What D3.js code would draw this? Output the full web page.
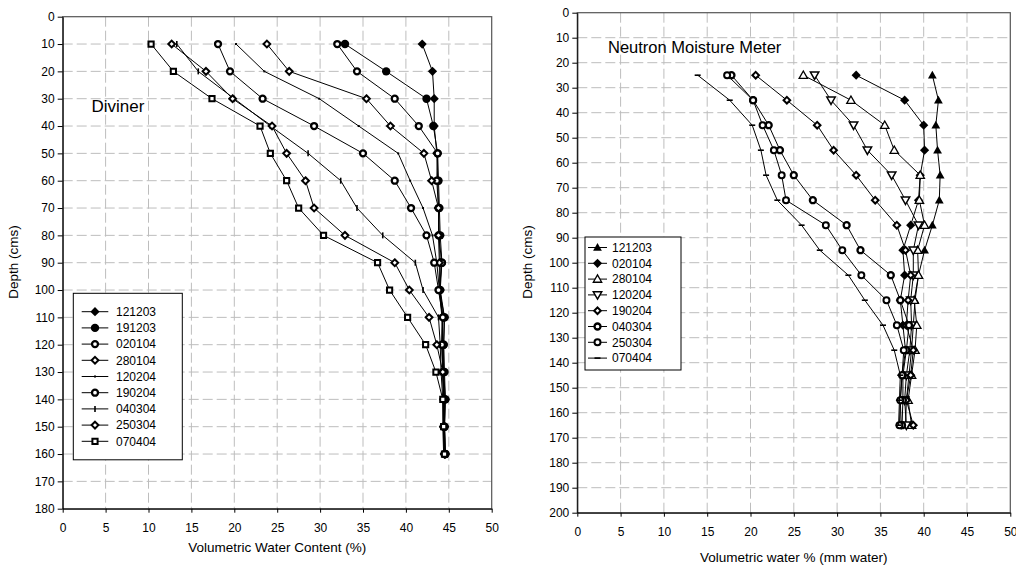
<!DOCTYPE html>
<html><head><meta charset="utf-8">
<script src="https://cdn.jsdelivr.net/npm/d3@7/dist/d3.min.js"></script>
<style>body{margin:0;background:#fff;} svg{display:block;font-family:"Liberation Sans",Arial,sans-serif;}</style>
</head><body><svg id="c" width="1016" height="566"></svg>
<script>
// ---------- data ----------
const xTickValues = [0,5,10,15,20,25,30,35,40,45,50];
const divinerDepthTicks = [0,10,20,30,40,50,60,70,80,90,100,110,120,130,140,150,160,170,180];
const nmmDepthTicks = [0,10,20,30,40,50,60,70,80,90,100,110,120,130,140,150,160,170,180,190,200];

const divinerDepths = [10,20,30,40,50,60,70,80,90,100,110,120,130,140,150,160];
const divinerLabels = ["121203","191203","020104","280104","120204","190204","040304","250304","070404"];
const div121203 = [41.9,43.1,43.3,43.3,43.6,43.7,43.8,43.9,44.0,44.0,44.3,44.3,44.4,44.5,44.5,44.6];
const div191203 = [32.9,37.7,42.4,43.2,43.7,43.8,43.9,44.0,44.2,44.0,44.5,44.4,44.5,44.6,44.5,44.6];
const div020104 = [32.0,34.3,38.7,41.5,43.7,43.6,43.8,43.8,44.2,43.9,44.5,44.4,44.4,44.6,44.5,44.6];
const div280104 = [23.8,26.4,35.4,38.2,42.1,43.0,43.8,43.8,43.9,43.9,44.3,44.2,44.3,44.5,44.4,44.5];
const div120204 = [20.2,23.5,29.9,34.5,39.1,40.5,42.0,43.1,43.6,43.9,44.2,44.2,44.3,44.4,44.4,44.5];
const div190204 = [18.1,19.5,23.3,29.3,35.0,38.7,40.6,42.4,43.3,43.8,44.3,44.2,44.3,44.4,44.4,44.5];
const div040304 = [13.3,15.8,20.0,24.2,28.6,32.4,34.3,37.3,41.1,42.0,43.8,44.0,44.1,44.3,44.3,44.4];
const div250304 = [12.7,16.7,19.8,24.4,26.1,28.3,29.3,32.9,38.7,40.4,42.7,43.6,44.3,44.4,44.4,44.5];
const div070404 = [10.3,12.9,17.4,23.0,24.2,26.1,27.5,30.4,36.7,38.1,40.2,42.3,43.5,44.3,44.4,44.5];

const nmmDepths = [25,35,45,55,65,75,85,95,105,115,125,135,145,155,165];
const nmmLabels = ["121203","020104","280104","120204","190204","040304","250304","070404"];
const nmm121203 = [41.0,41.7,41.4,41.6,41.9,41.8,41.0,40.1,39.4,39.0,38.8,38.6,38.3,38.0,37.9];
const nmm020104 = [32.2,37.8,40.0,40.1,39.6,39.4,38.5,37.6,37.8,37.3,37.6,37.9,37.5,37.3,37.4];
const nmm280104 = [26.1,31.6,35.5,36.6,39.6,39.5,40.1,39.3,39.4,38.9,39.2,39.0,38.6,38.2,38.6];
const nmm120204 = [27.4,29.3,31.9,33.5,36.3,37.9,39.4,38.8,38.8,38.5,38.6,38.4,38.0,37.8,38.0];
const nmm190204 = [20.6,24.2,27.7,29.6,32.2,34.4,36.9,37.9,38.5,38.2,38.0,38.8,38.5,38.0,38.8];
const nmm040304 = [17.8,20.3,22.1,23.4,25.0,27.2,31.1,32.7,36.2,37.3,38.3,38.0,37.6,37.6,37.5];
const nmm250304 = [17.3,20.3,21.4,22.7,23.6,24.1,28.7,30.6,32.8,35.7,36.9,37.7,37.5,37.3,37.2];
const nmm070404 = [13.9,17.6,20.2,21.2,21.8,23.1,25.9,28.0,31.3,33.2,35.3,36.6,37.3,37.2,37.1];

// ---------- styles ----------
const divinerStyles = [
  {m:"diamond", s:4.6, fill:"#000", sw:0},
  {m:"circle", s:4.2, fill:"#000", sw:0},
  {m:"circle", s:3.0, fill:"#fff", sw:2.3},
  {m:"diamond", s:3.4, fill:"#fff", sw:2},
  {m:"dot", s:1, fill:"#000", sw:0},
  {m:"circle", s:3.0, fill:"#fff", sw:2.3},
  {m:"vdash", s:3, fill:"none", sw:1.6},
  {m:"diamond", s:3.4, fill:"#fff", sw:2},
  {m:"square", s:2.6, fill:"#fff", sw:2}
];
const nmmStyles = [
  {m:"triUp", s:4.4, fill:"#000", sw:0},
  {m:"diamond", s:4.6, fill:"#000", sw:0},
  {m:"triUp", s:4.2, fill:"#fff", sw:1.3},
  {m:"triDown", s:4.2, fill:"#fff", sw:1.5},
  {m:"diamond", s:3.3, fill:"#fff", sw:2},
  {m:"circle", s:3.0, fill:"#fff", sw:2.3},
  {m:"circle", s:3.0, fill:"#fff", sw:2},
  {m:"hdash", s:3, fill:"none", sw:1.6}
];

function markerPath(type, s){
  switch(type){
    case "diamond": return `M0,${-s}L${s},0L0,${s}L${-s},0Z`;
    case "circle": return `M${-s},0a${s},${s} 0 1,0 ${2*s},0a${s},${s} 0 1,0 ${-2*s},0Z`;
    case "square": return `M${-s},${-s}H${s}V${s}H${-s}Z`;
    case "triUp": return `M0,${-s}L${s},${s*0.75}L${-s},${s*0.75}Z`;
    case "triDown": return `M0,${s}L${s},${-s*0.75}L${-s},${-s*0.75}Z`;
    case "dot": return `M-1,-1H1V1H-1Z`;
    case "vdash": return `M0,${-s}V${s}`;
    case "hdash": return `M${-s},0H${s}`;
  }
}

const svg = d3.select("#c");

function drawChart(cfg){
  const x = d3.scaleLinear().domain([0,50]).range([cfg.left, cfg.right]);
  const y = d3.scaleLinear().domain([0,cfg.maxDepth]).range([cfg.top, cfg.bottom]);
  const g = svg.append("g");

  // grid
  g.append("g").selectAll("line").data(xTickValues.slice(1,-1)).join("line")
    .attr("x1", d=>x(d)).attr("x2", d=>x(d)).attr("y1", cfg.top).attr("y2", cfg.bottom)
    .attr("stroke","#bdbdbd").attr("stroke-width",1).attr("stroke-dasharray","10,4");
  g.append("g").selectAll("line").data(cfg.yTicks.slice(1,-1)).join("line")
    .attr("y1", d=>y(d)).attr("y2", d=>y(d)).attr("x1", cfg.left).attr("x2", cfg.right)
    .attr("stroke","#bdbdbd").attr("stroke-width",1).attr("stroke-dasharray","10,4");

  // frame
  g.append("rect").attr("x",cfg.left).attr("y",cfg.top).attr("width",cfg.right-cfg.left).attr("height",cfg.bottom-cfg.top)
    .attr("fill","none").attr("stroke","#555").attr("stroke-width",1.2);

  // axes
  const ax = g.append("g").attr("transform",`translate(${cfg.left},0)`)
    .call(d3.axisLeft(y).tickValues(cfg.yTicks).tickSize(5).tickPadding(3).tickSizeOuter(0));
  const bx = g.append("g").attr("transform",`translate(0,${cfg.bottom})`)
    .call(d3.axisBottom(x).tickValues(xTickValues).tickSize(4).tickPadding(11).tickSizeOuter(0));
  [ax,bx].forEach(a=>{
    a.selectAll("text").attr("font-size",12).attr("fill","#000").attr("font-family","Liberation Sans, Arial, sans-serif");
    a.selectAll("line,path").attr("stroke","#000");
  });

  // series
  const line = d3.line().x(d=>x(d.v)).y(d=>y(d.d));
  cfg.series.forEach((s,i)=>{
    const st = cfg.styles[i];
    const pts = s.values.map((v,j)=>({v, d:cfg.depths[j]}));
    const sg = g.append("g");
    sg.append("path").datum(pts).attr("d",line).attr("fill","none").attr("stroke","#000").attr("stroke-width",1);
    sg.selectAll("path.m").data(pts).join("path").attr("class","m")
      .attr("transform",d=>`translate(${x(d.v)},${y(d.d)})`)
      .attr("d",markerPath(st.m, st.s))
      .attr("fill",st.fill).attr("stroke","#000").attr("stroke-width",st.sw);
  });

  // legend
  const L = cfg.legend;
  const lg = g.append("g");
  lg.append("rect").attr("x",L.x).attr("y",L.y).attr("width",L.w).attr("height",L.h)
    .attr("fill","#fff").attr("stroke","#000").attr("stroke-width",1);
  cfg.series.forEach((s,i)=>{
    const st = cfg.styles[i];
    const ry = L.row0 + i*L.step;
    lg.append("line").attr("x1",L.lx1).attr("x2",L.lx2).attr("y1",ry).attr("y2",ry).attr("stroke","#000").attr("stroke-width",1);
    lg.append("path").attr("transform",`translate(${(L.lx1+L.lx2)/2},${ry})`).attr("d",markerPath(st.m,st.s))
      .attr("fill",st.fill).attr("stroke","#000").attr("stroke-width",st.sw);
    lg.append("text").attr("x",L.tx).attr("y",ry).attr("dy","0.35em").attr("font-size",12).text(s.label);
  });

  // titles
  g.append("text").attr("x",cfg.nameX).attr("y",cfg.nameY).attr("font-size",cfg.nameSize).text(cfg.name);
  g.append("text").attr("x",(cfg.left+cfg.right)/2).attr("y",cfg.xTitleY).attr("text-anchor","middle")
    .attr("font-size",13.5).text(cfg.xTitle);
  g.append("text").attr("transform",`translate(${cfg.yTitleX},262) rotate(-90)`).attr("text-anchor","middle")
    .attr("font-size",13.5).text("Depth (cms)");
}

const divValues = [div121203,div191203,div020104,div280104,div120204,div190204,div040304,div250304,div070404];
drawChart({
  left:62.7, right:491.7, top:16.7, bottom:508.7, maxDepth:180,
  yTicks:divinerDepthTicks, depths:divinerDepths,
  series: divinerLabels.map((l,i)=>({label:l, values:divValues[i]})),
  styles: divinerStyles,
  legend:{x:73.3, y:293.3, w:109, h:166.5, row0:311.7, step:16.2, lx1:81.7, lx2:108.3, tx:116},
  name:"Diviner", nameX:91.5, nameY:112, nameSize:17,
  xTitle:"Volumetric Water Content (%)", xTitleY:551.5, yTitleX:18
});

const nmmValues = [nmm121203,nmm020104,nmm280104,nmm120204,nmm190204,nmm040304,nmm250304,nmm070404];
drawChart({
  left:577.3, right:1010.3, top:12.7, bottom:512.7, maxDepth:200,
  yTicks:nmmDepthTicks, depths:nmmDepths,
  series: nmmLabels.map((l,i)=>({label:l, values:nmmValues[i]})),
  styles: nmmStyles,
  legend:{x:585, y:237, w:96, h:133, row0:247.5, step:15.8, lx1:588, lx2:607, tx:612},
  name:"Neutron Moisture Meter", nameX:608, nameY:52.5, nameSize:16.5,
  xTitle:"Volumetric water % (mm water)", xTitleY:562, yTitleX:532
});
</script>
</body></html>
